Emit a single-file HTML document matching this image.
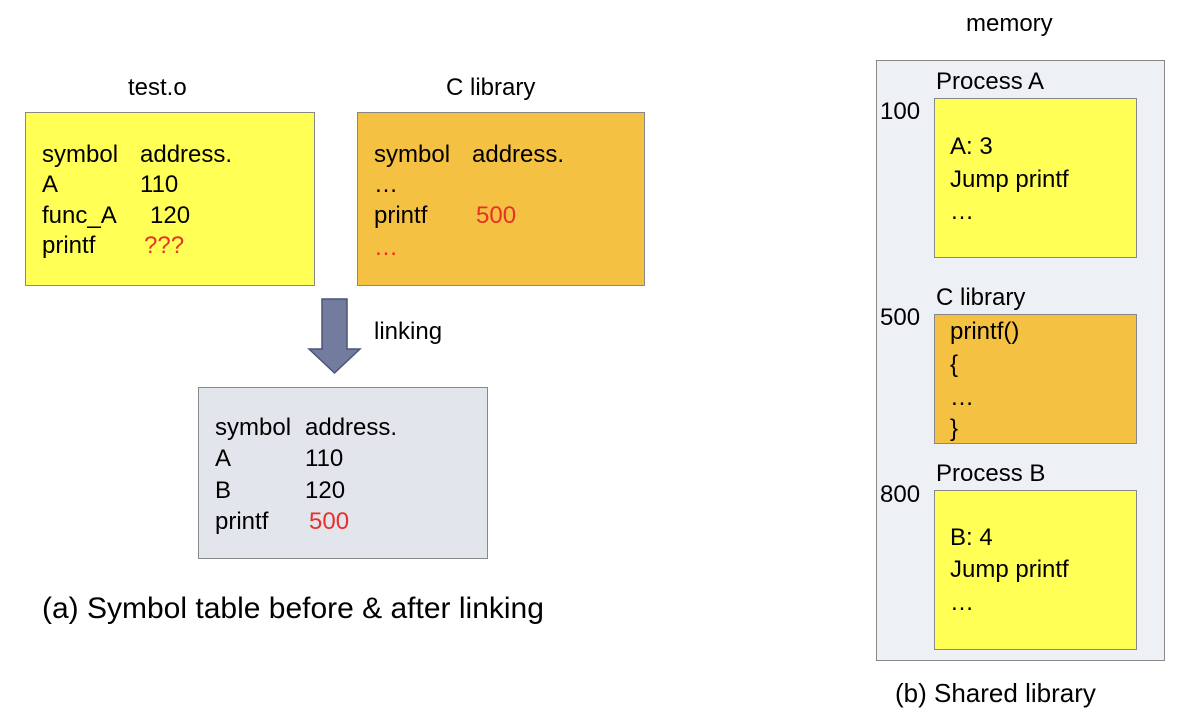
<!DOCTYPE html>
<html><head><meta charset="utf-8"><style>
body{margin:0;width:1188px;height:728px;background:#fff;position:relative;overflow:hidden;font-family:"Liberation Sans",sans-serif;color:#000}
.b{position:absolute;box-sizing:border-box;border:1px solid #888}
.t{position:absolute;font-size:24px;line-height:26px;white-space:nowrap}
.r{color:#e8312a}
</style></head><body>
<div class="t" style="left:128px;top:75px">test.o</div>
<div class="t" style="left:446px;top:75px">C library</div>
<div class="b" style="left:25px;top:112px;width:290px;height:174px;background:#ffff55"></div>
<div class="b" style="left:357px;top:112px;width:288px;height:174px;background:#f4c142"></div>
<div class="t" style="left:42px;top:142px">symbol</div><div class="t" style="left:140px;top:142px">address.</div>
<div class="t" style="left:42px;top:172px">A</div><div class="t" style="left:140px;top:172px">110</div>
<div class="t" style="left:42px;top:203px">func_A</div><div class="t" style="left:150px;top:203px">120</div>
<div class="t" style="left:42px;top:233px">printf</div><div class="t r" style="left:144px;top:233px">???</div>
<div class="t" style="left:374px;top:142px">symbol</div><div class="t" style="left:472px;top:142px">address.</div>
<div class="t" style="left:374px;top:172px">…</div>
<div class="t" style="left:374px;top:203px">printf</div><div class="t r" style="left:476px;top:203px">500</div>
<div class="t r" style="left:374px;top:235px">…</div>
<svg style="position:absolute;left:0;top:0" width="1188" height="728">
<polygon points="322,299 347,299 347,349 360,349 334.5,373 309,349 322,349" fill="#737c9e" stroke="#4c5577" stroke-width="1.5"/>
</svg>
<div class="t" style="left:374px;top:319px">linking</div>
<div class="b" style="left:198px;top:387px;width:290px;height:172px;background:#e3e5ec"></div>
<div class="t" style="left:215px;top:415px">symbol</div><div class="t" style="left:305px;top:415px">address.</div>
<div class="t" style="left:215px;top:446px">A</div><div class="t" style="left:305px;top:446px">110</div>
<div class="t" style="left:215px;top:478px">B</div><div class="t" style="left:305px;top:478px">120</div>
<div class="t" style="left:215px;top:509px">printf</div><div class="t r" style="left:309px;top:509px">500</div>
<div class="t" style="left:42px;top:592px;font-size:30px;line-height:34px">(a) Symbol table before &amp; after linking</div>
<div class="t" style="left:966px;top:11px">memory</div>
<div class="b" style="left:876px;top:60px;width:289px;height:601px;background:#edf0f5"></div>
<div class="t" style="left:936px;top:69px">Process A</div>
<div class="t" style="left:880px;top:99px">100</div>
<div class="b" style="left:934px;top:98px;width:203px;height:160px;background:#ffff55"></div>
<div class="t" style="left:950px;top:134px">A: 3</div>
<div class="t" style="left:950px;top:167px">Jump printf</div>
<div class="t" style="left:950px;top:199px">…</div>
<div class="t" style="left:936px;top:285px">C library</div>
<div class="t" style="left:880px;top:305px">500</div>
<div class="b" style="left:934px;top:314px;width:203px;height:130px;background:#f4c142"></div>
<div class="t" style="left:950px;top:319px">printf()</div>
<div class="t" style="left:950px;top:352px">{</div>
<div class="t" style="left:950px;top:385px">…</div>
<div class="t" style="left:950px;top:416px">}</div>
<div class="t" style="left:936px;top:461px">Process B</div>
<div class="t" style="left:880px;top:482px">800</div>
<div class="b" style="left:934px;top:490px;width:203px;height:160px;background:#ffff55"></div>
<div class="t" style="left:950px;top:525px">B: 4</div>
<div class="t" style="left:950px;top:557px">Jump printf</div>
<div class="t" style="left:950px;top:590px">…</div>
<div class="t" style="left:895px;top:678px;font-size:26px;line-height:30px">(b) Shared library</div>
</body></html>
